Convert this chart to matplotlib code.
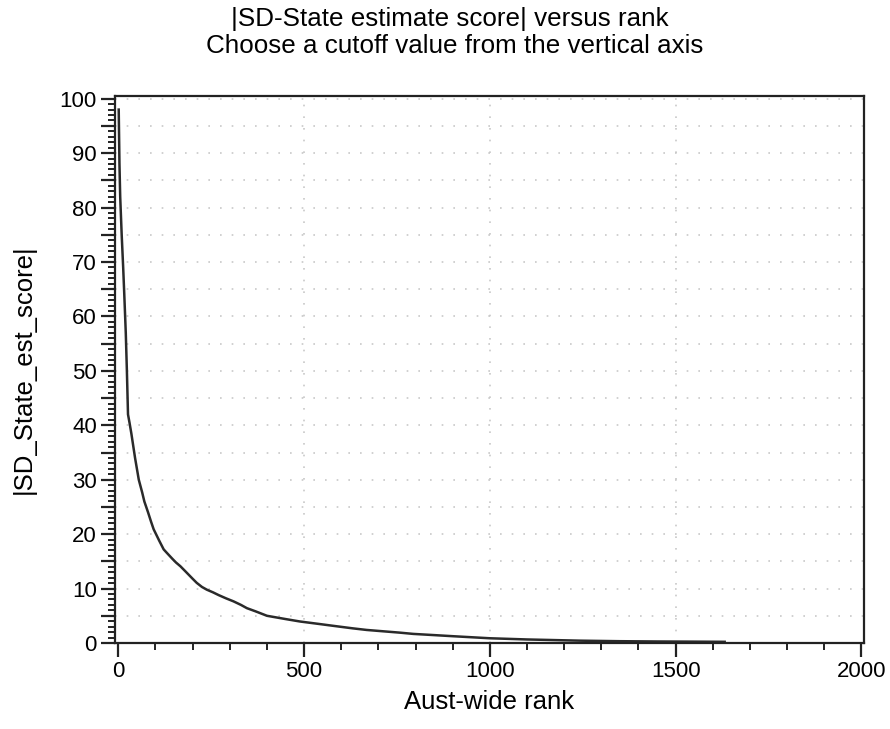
import matplotlib
matplotlib.use("Agg")
import matplotlib.pyplot as plt
from matplotlib.ticker import MultipleLocator, FixedLocator

# Data (rank, |SD-State estimate score|)
ranks = [1, 3, 5, 9, 13, 16, 20, 23, 26, 30, 35, 45, 55, 64, 70, 80, 88, 95, 110,
         122, 130, 145, 155, 167, 180, 190, 200, 211, 225, 238, 255, 270, 290,
         310, 330, 346, 370, 400, 425, 450, 489, 540, 579, 630, 668, 704, 758,
         794, 850, 900, 1000, 1100, 1242, 1350, 1450, 1550, 1632]
scores = [98, 88, 82, 75, 69, 64, 57, 50, 42, 40.5, 38.5, 34, 30, 27.7, 26, 24,
          22.3, 20.9, 18.8, 17.2, 16.6, 15.5, 14.8, 14.1, 13.2, 12.5, 11.8, 11.05,
          10.3, 9.8, 9.3, 8.8, 8.2, 7.65, 7.0, 6.4, 5.8, 5.0, 4.7, 4.4, 3.95, 3.5,
          3.15, 2.7, 2.4, 2.2, 1.9, 1.67, 1.45, 1.25, 0.87, 0.65, 0.43, 0.33,
          0.28, 0.25, 0.22]

title_lines = ["|SD-State estimate score| versus rank",
               "Choose a cutoff value from the vertical axis"]
x_label = "Aust-wide rank"
y_label = "|SD_State_est_score|"
x_ticks = [0, 500, 1000, 1500, 2000]
y_ticks = [0, 10, 20, 30, 40, 50, 60, 70, 80, 90, 100]

plt.rcParams['font.family'] = ['Liberation Sans', 'DejaVu Sans']

fig = plt.figure(figsize=(8.9, 7.29), dpi=100)
ax = fig.add_axes([115/890, 1-643/729, (864-115)/890, (643-96)/729])

ax.plot(ranks, scores, color='#2a2a2a', lw=1.8, solid_joinstyle='round')

ax.set_xlim(-9, 2007)

ax.xaxis.set_major_locator(FixedLocator(x_ticks))
ax.xaxis.set_minor_locator(MultipleLocator(100))
ax.set_xticklabels([str(v) for v in x_ticks])
major_y = list(range(0, 101, 5))
ax.set_yticks(major_y)
ax.set_yticklabels([str(v) if v in y_ticks else '' for v in major_y])
ax.yaxis.set_minor_locator(MultipleLocator(1))
ax.set_ylim(0, 100.5)

ax.tick_params(axis='both', which='major', direction='out', length=10, width=1.6,
               labelsize=16, color='#222222', pad=3)
ax.tick_params(axis='both', which='minor', direction='out', length=5, width=1.4,
               color='#222222')

for s in ax.spines.values():
    s.set_linewidth(1.6)
    s.set_color('#222222')

ax.grid(True, which='major', axis='y', color='#c8c8c8', linestyle=(0, (1, 6)), lw=1.2)
ax.xaxis.grid(False)
for xv in [500, 1000, 1500]:
    ax.axvline(xv, color='#c8c8c8', linestyle=(0, (1, 6)), lw=1.2, zorder=0)
ax.set_axisbelow(True)

ax.set_xlabel(x_label, fontsize=18.5, labelpad=6)
ax.set_ylabel(y_label, fontsize=18.5)
ax.yaxis.set_label_coords((36 - 115) / (864 - 115), 0.5)

fig.text(450/890, 1-19/729, title_lines[0], ha='center', va='center', fontsize=18.7)
fig.text(455/890, 1-46/729, title_lines[1], ha='center', va='center', fontsize=18.7)

fig.savefig("out.png", dpi=100)
